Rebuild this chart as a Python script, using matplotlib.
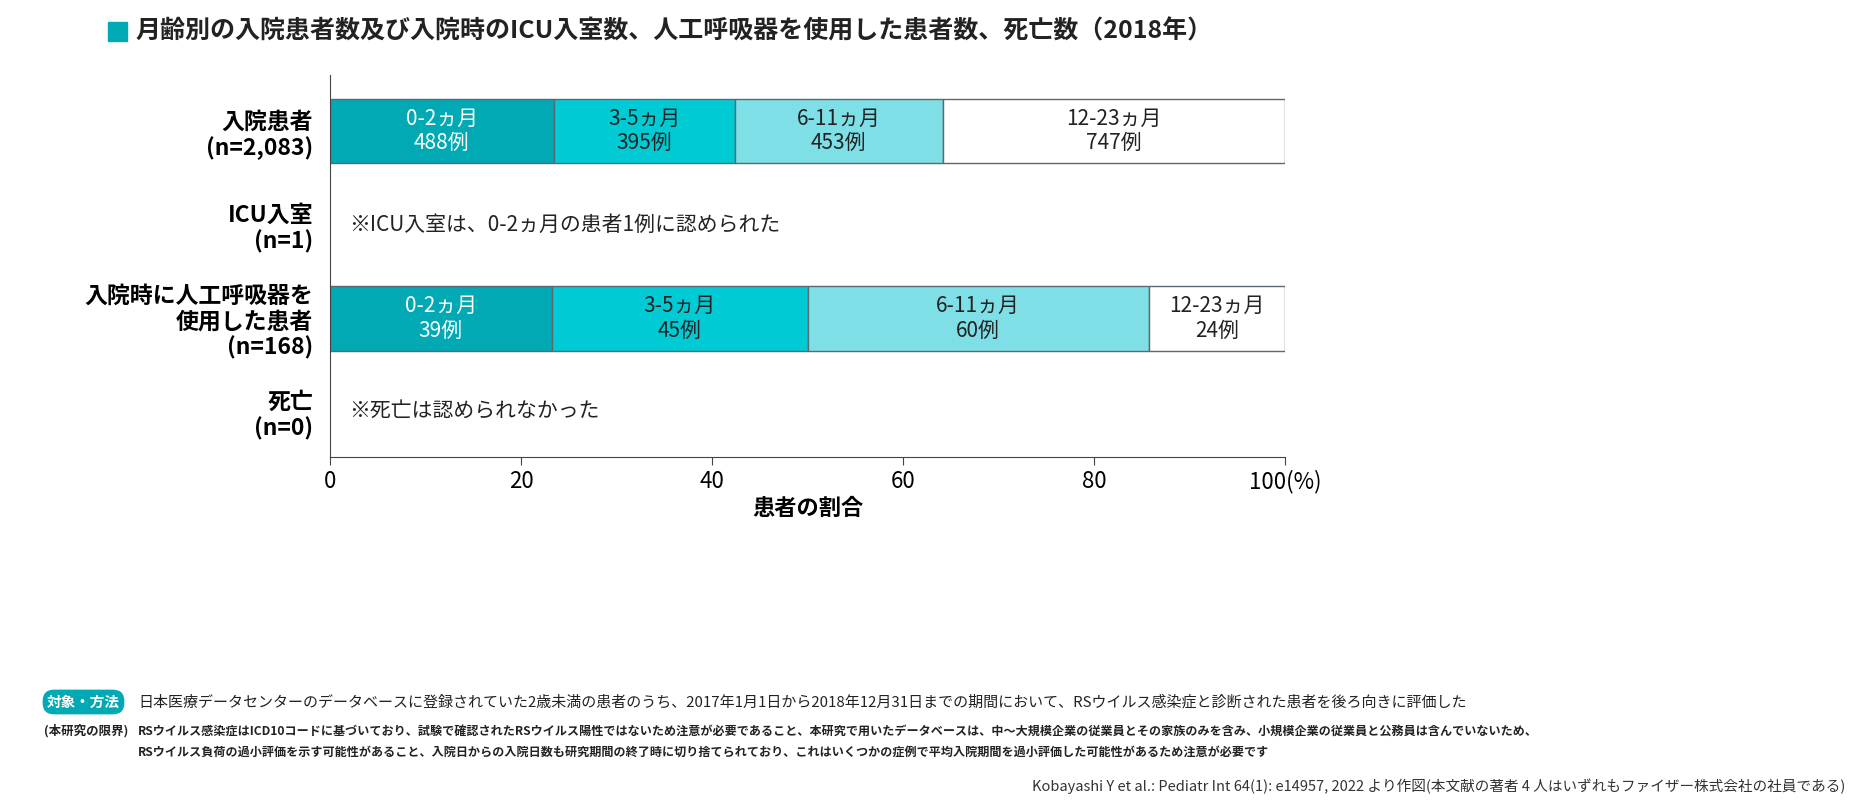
import matplotlib
matplotlib.use("Agg")
import matplotlib.pyplot as plt

plt.rcParams["font.family"] = "Noto Sans CJK JP"

groups = ["0-2ヵ月", "3-5ヵ月", "6-11ヵ月", "12-23ヵ月"]
hosp_counts = [488, 395, 453, 747]
vent_counts = [39, 45, 60, 24]
row_labels = ["入院患者\n(n=2,083)", "ICU入室\n(n=1)", "入院時に人工呼吸器を\n使用した患者\n(n=168)", "死亡\n(n=0)"]
notes = {1: "※ICU入室は、0-2ヵ月の患者1例に認められた", 3: "※死亡は認められなかった"}
colors = ["#00a9b4", "#00cbd4", "#7fdfe6", "#ffffff"]
txt_colors = ["white", "#222222", "#222222", "#222222"]
xticks = [0, 20, 40, 60, 80, 100]

fig = plt.figure(figsize=(18.57, 8.09), dpi=100)
ax = fig.add_axes([330/1857, 1-457/809, (1285-330)/1857, (457-75)/809])

for row, counts in [(0, hosp_counts), (2, vent_counts)]:
    tot = sum(counts)
    left = 0
    for i, c in enumerate(counts):
        w = c / tot * 100
        ax.barh(row, w, left=left, height=0.69, color=colors[i], edgecolor="#5a6a72", linewidth=1)
        ax.text(left + w/2, row, f"{groups[i]}\n{c}例", ha="center", va="center",
                fontsize=15, color=txt_colors[i], linespacing=1.15)
        left += w
for r, t in notes.items():
    ax.text(2, r, t, va="center", ha="left", fontsize=15, color="#222222")

ax.set_xlim(0, 100)
ax.set_ylim(3.48, -0.6)
ax.set_yticks(range(4))
ax.set_yticklabels(row_labels, fontsize=16.5, fontweight="bold", linespacing=1.15)
ax.set_xticks(xticks)
ax.set_xticklabels([str(x) for x in xticks[:-1]] + ["100(%)"], fontsize=16)
ax.tick_params(axis="y", length=0, pad=12)
ax.tick_params(axis="x", length=6, color="#444444")
for s in ["top", "right"]:
    ax.spines[s].set_visible(False)
for s in ["left", "bottom"]:
    ax.spines[s].set_color("#444444")
ax.set_xlabel("患者の割合", fontsize=16, fontweight="bold", labelpad=2)

# title
fig.patches.append(plt.Rectangle((108/1857, 1-41/809), 19/1857, 19/809, transform=fig.transFigure, color="#00a9b4"))
fig.text(135/1857, 1-31/809, "月齢別の入院患者数及び入院時のICU入室数、人工呼吸器を使用した患者数、死亡数（2018年）",
         fontsize=18, fontweight="bold", va="center", color="#222222")

# footnotes
fig.text(47/1857, 1-702/809, "対象・方法", fontsize=10.5, fontweight="bold", color="white", va="center",
         bbox=dict(boxstyle="round,pad=0.3,rounding_size=0.8", fc="#00a9b4", ec="none"))
fig.text(138/1857, 1-702/809, "日本医療データセンターのデータベースに登録されていた2歳未満の患者のうち、2017年1月1日から2018年12月31日までの期間において、RSウイルス感染症と診断された患者を後ろ向きに評価した",
         fontsize=10.8, va="center", color="#222222")
fig.text(44/1857, 1-731/809, "(本研究の限界)", fontsize=9, fontweight="bold", va="center", color="#222222")
fig.text(138/1857, 1-731/809, "RSウイルス感染症はICD10コードに基づいており、試験で確認されたRSウイルス陽性ではないため注意が必要であること、本研究で用いたデータベースは、中～大規模企業の従業員とその家族のみを含み、小規模企業の従業員と公務員は含んでいないため、",
         fontsize=8.7, fontweight="bold", va="center", color="#222222")
fig.text(138/1857, 1-752/809, "RSウイルス負荷の過小評価を示す可能性があること、入院日からの入院日数も研究期間の終了時に切り捨てられており、これはいくつかの症例で平均入院期間を過小評価した可能性があるため注意が必要です",
         fontsize=8.7, fontweight="bold", va="center", color="#222222")
fig.text(1845/1857, 1-786/809, "Kobayashi Y et al.: Pediatr Int 64(1): e14957, 2022 より作図(本文献の著者 4 人はいずれもファイザー株式会社の社員である)",
         fontsize=10.5, ha="right", va="center", color="#333333")

fig.savefig("out.png", dpi=100)
